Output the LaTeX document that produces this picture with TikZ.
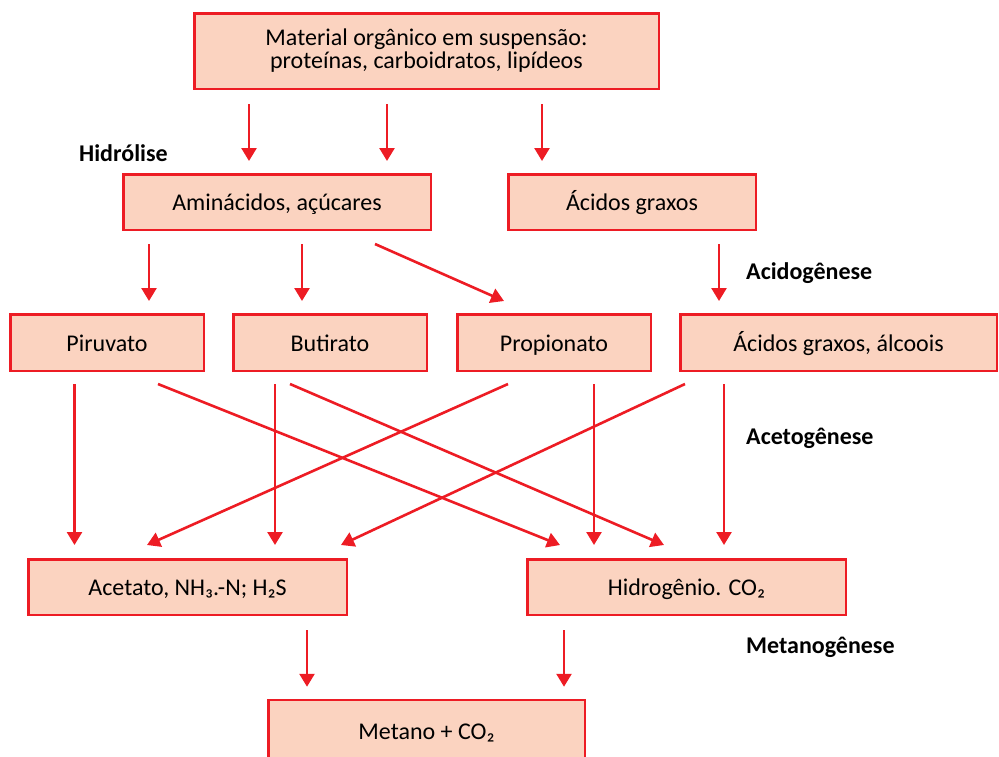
\documentclass[tikz,border=0pt]{standalone}
\usepackage{fontspec}
\setmainfont{Carlito}
\usepackage{tikz}
\usetikzlibrary{arrows.meta, calc}
\usepackage{xcolor}
\definecolor{boxred}{HTML}{ED1C24}
\definecolor{boxfill}{HTML}{FBD3C0}

\begin{document}
\begin{tikzpicture}[
    x=1pt, y=-1pt,
    box/.style={
      draw=boxred, fill=boxfill, line width=2.5pt, inner sep=2pt,
      minimum height=55.5pt, align=center,
      font=\fontsize{24}{23}\selectfont
    },
    onebox/.style={box, text height=19pt, text depth=2pt},
    phase/.style={anchor=base west, inner sep=0pt,
      font=\fontsize{24}{23}\selectfont\bfseries},
    arr/.style={draw=boxred, line width=2.6pt,
      -{Triangle[width=15pt, length=13pt]}},
  ]
    \useasboundingbox (0,0) rectangle (999,756);

    % --- Substrate ---
    \node[box, minimum width=464.5pt, minimum height=75.5pt] (mat) at (426.5,51)
      {Material orgânico em suspensão:\\proteínas, carboidratos, lipídeos};

    % --- Hydrolysis products ---
    \node[onebox, minimum width=307.5pt] (amin) at (277,202) {Aminácidos, açúcares};
    \node[onebox, minimum width=247.5pt] (acgr) at (632,202) {Ácidos graxos};

    % --- Acidogenesis products ---
    \node[onebox, minimum width=193.5pt, minimum height=56.5pt] (piru) at (107,342.5) {Piruvato};
    \node[onebox, minimum width=193.5pt, minimum height=56.5pt] (buti) at (330,342.5) {Butirato};
    \node[onebox, minimum width=193.5pt, minimum height=56.5pt] (prop) at (554,342.5) {Propionato};
    \node[onebox, minimum width=316.5pt, minimum height=56.5pt] (alco) at (838.5,342.5) {Ácidos graxos, álcoois};

    % --- Acetogenesis products ---
    \node[onebox, minimum width=318.5pt] (acet) at (187.5,587) {Acetato, NH₃.-N; H₂S};
    \node[onebox, minimum width=318.5pt] (hidr) at (686.5,587) {Hidrogênio. CO₂};

    % --- Methanogenesis ---
    \node[onebox, minimum width=316.5pt, minimum height=61pt] (meta) at (426.5,730.5) {Metano + CO₂};

    % --- Phase labels ---
    \node[phase] (lhid) at (79,161) {Hidrólise};
    \node[phase] (lacd) at (746,279) {Acidogênese};
    \node[phase] (lact) at (746,444) {Acetogênese};
    \node[phase] (lmet) at (746,653) {Metanogênese};

    % --- Arrows ---
    \draw[arr] ($(mat.south)+(-177.5,14)$) -- ($(amin.north)+(-28,-12)$);
    \draw[arr] ($(mat.south)+(-39.5,14)$)  -- ($(amin.north)+(110,-12)$);
    \draw[arr] ($(mat.south)+(115.5,14)$)  -- ($(acgr.north)+(-90,-12)$);

    \draw[arr] ($(amin.south)+(-128,13)$) -- ($(piru.north)+(42,-12)$);
    \draw[arr] ($(amin.south)+(25,13)$)   -- ($(buti.north)+(-28,-12)$);
    \draw[arr] ($(amin.south)+(98,13)$)   -- ($(prop.north)+(-50,-12)$);
    \draw[arr] ($(acgr.south)+(87,13)$)   -- ($(alco.north)+(-119.5,-12)$);

    \draw[arr] ($(piru.south)+(-32.5,12)$) -- ($(acet.north)+(-113,-13)$);
    \draw[arr] ($(piru.south)+(51,12)$)    -- ($(hidr.north)+(-126.5,-13)$);
    \draw[arr] ($(buti.south)+(-55,12)$)   -- ($(acet.north)+(87.5,-13)$);
    \draw[arr] ($(buti.south)+(-40,12)$)   -- ($(hidr.north)+(-22.5,-13)$);
    \draw[arr] ($(prop.south)+(-46,12)$)   -- ($(acet.north)+(-40.5,-13)$);
    \draw[arr] ($(prop.south)+(40,12)$)    -- ($(hidr.north)+(-92.5,-13)$);
    \draw[arr] ($(alco.south)+(-153.5,12)$) -- ($(acet.north)+(153.5,-13)$);
    \draw[arr] ($(alco.south)+(-114.5,12)$) -- ($(hidr.north)+(37.5,-13)$);

    \draw[arr] ($(acet.south)+(119.5,14)$)  -- ($(meta.north)+(-119.5,-12)$);
    \draw[arr] ($(hidr.south)+(-122.5,14)$) -- ($(meta.north)+(137.5,-12)$);
  \end{tikzpicture}
\end{document}
